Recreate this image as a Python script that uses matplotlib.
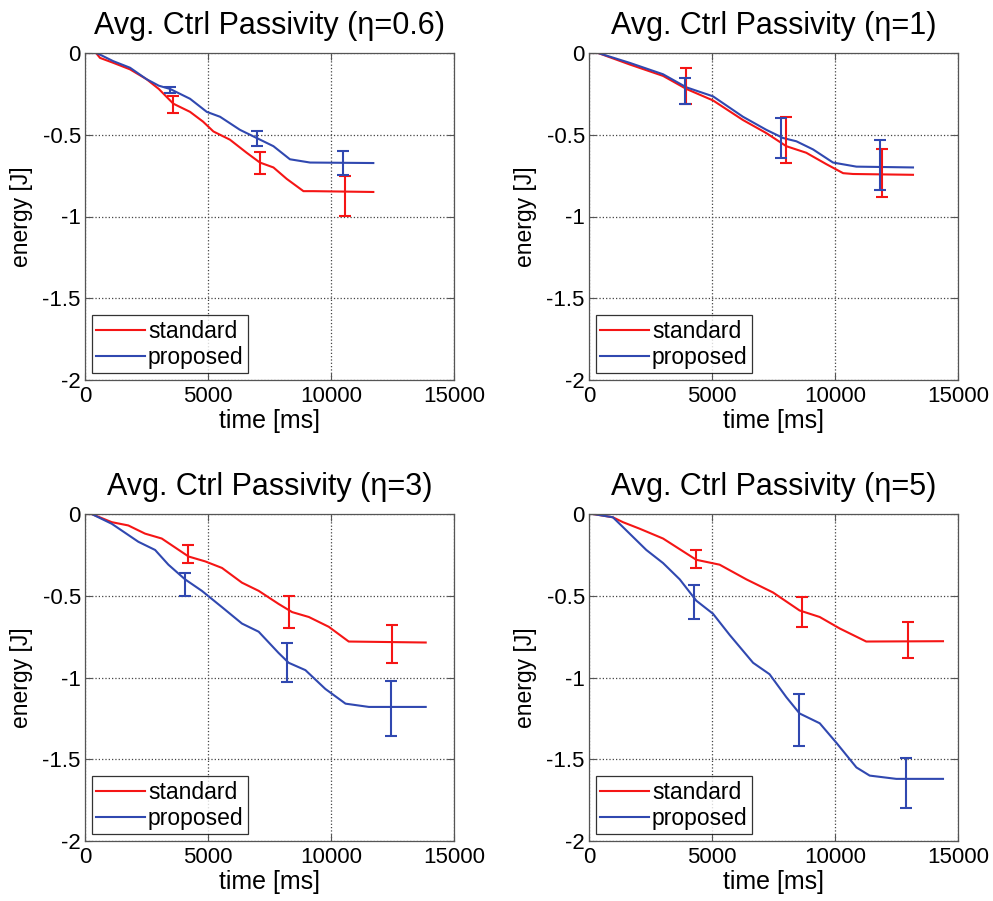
#!/usr/bin/env python3
"""
Average controller passivity energy: standard vs proposed, four eta values.
"""

import matplotlib
matplotlib.use('Agg')
import matplotlib.pyplot as plt

plt.rcParams['font.family'] = ['Liberation Sans', 'DejaVu Sans']
plt.rcParams['axes.unicode_minus'] = False

# ---- data ----
eta_labels = ['0.6', '1', '3', '5']

# eta = 0.6
std_t_06 = [0, 450, 610, 1150, 1830, 2500, 3000, 3590, 4270, 4800, 5220, 5890, 6570, 7110, 7660, 8200, 8880, 9280, 11720]
std_e_06 = [0, 0, -0.03, -0.06, -0.10, -0.16, -0.22, -0.31, -0.36, -0.42, -0.48, -0.53, -0.61, -0.67, -0.70, -0.77, -0.845, -0.845, -0.85]
prop_t_06 = [0, 450, 610, 1150, 1830, 2500, 3000, 3460, 4270, 4950, 5490, 6300, 6980, 7660, 8330, 9150, 11720]
prop_e_06 = [0, 0, -0.01, -0.05, -0.09, -0.16, -0.20, -0.22, -0.28, -0.36, -0.39, -0.47, -0.52, -0.57, -0.65, -0.67, -0.673]
std_bar_t_06 = [3590, 7110, 10570]
std_bar_e_06 = [-0.315, -0.675, -0.877]
std_bar_err_06 = [0.055, 0.067, 0.122]
prop_bar_t_06 = [3460, 6980, 10500]
prop_bar_e_06 = [-0.227, -0.522, -0.672]
prop_bar_err_06 = [0.018, 0.047, 0.072]

# eta = 1
std_t_1 = [0, 370, 1650, 3010, 3960, 5040, 6260, 7210, 8020, 8830, 9650, 10330, 10730, 13170]
std_e_1 = [0, 0, -0.07, -0.14, -0.22, -0.29, -0.41, -0.49, -0.57, -0.61, -0.68, -0.735, -0.74, -0.745]
prop_t_1 = [0, 370, 1650, 3010, 3960, 5040, 6260, 7210, 7890, 8430, 9110, 9920, 10870, 13170]
prop_e_1 = [0, 0, -0.06, -0.13, -0.21, -0.265, -0.39, -0.47, -0.52, -0.54, -0.59, -0.67, -0.695, -0.70]
std_bar_t_1 = [3960, 8020, 11910]
std_bar_e_1 = [-0.20, -0.53, -0.735]
std_bar_err_1 = [0.11, 0.14, 0.145]
prop_bar_t_1 = [3890, 7820, 11810]
prop_bar_e_1 = [-0.23, -0.52, -0.685]
prop_bar_err_1 = [0.08, 0.12, 0.155]

# eta = 3
std_t_3 = [0, 270, 1090, 1760, 2440, 3120, 4210, 4890, 5570, 6380, 7060, 7870, 8420, 9100, 9910, 10720, 13850]
std_e_3 = [0, 0, -0.05, -0.07, -0.12, -0.15, -0.26, -0.29, -0.33, -0.42, -0.47, -0.55, -0.60, -0.63, -0.69, -0.78, -0.786]
prop_t_3 = [0, 270, 1090, 2170, 2850, 3390, 4070, 4750, 5570, 6380, 7060, 7870, 8280, 8960, 9770, 10590, 11540, 13850]
prop_e_3 = [0, 0, -0.06, -0.17, -0.22, -0.31, -0.40, -0.47, -0.57, -0.67, -0.72, -0.85, -0.91, -0.955, -1.07, -1.16, -1.18, -1.18]
std_bar_t_3 = [4170, 8310, 12490]
std_bar_e_3 = [-0.245, -0.60, -0.795]
std_bar_err_3 = [0.055, 0.10, 0.115]
prop_bar_t_3 = [4050, 8210, 12420]
prop_bar_e_3 = [-0.43, -0.91, -1.19]
prop_bar_err_3 = [0.07, 0.12, 0.17]

# eta = 5
std_t_5 = [0, 160, 970, 1380, 2060, 3010, 4360, 5310, 6400, 7480, 8560, 9380, 10190, 11270, 14390]
std_e_5 = [0, 0, -0.02, -0.05, -0.09, -0.15, -0.28, -0.31, -0.40, -0.48, -0.59, -0.63, -0.70, -0.78, -0.778]
prop_t_5 = [0, 160, 970, 1380, 2330, 3010, 3690, 4360, 5040, 5720, 6670, 7340, 8020, 8560, 9380, 10060, 10870, 11410, 12490, 14390]
prop_e_5 = [0, 0, -0.02, -0.08, -0.22, -0.30, -0.40, -0.53, -0.61, -0.74, -0.91, -0.98, -1.12, -1.22, -1.28, -1.40, -1.55, -1.60, -1.62, -1.62]
std_bar_t_5 = [4340, 8660, 12970]
std_bar_e_5 = [-0.275, -0.60, -0.77]
std_bar_err_5 = [0.055, 0.09, 0.11]
prop_bar_t_5 = [4260, 8540, 12900]
prop_bar_e_5 = [-0.54, -1.26, -1.645]
prop_bar_err_5 = [0.105, 0.16, 0.155]

panels = [
    (std_t_06, std_e_06, prop_t_06, prop_e_06, std_bar_t_06, std_bar_e_06, std_bar_err_06,
     prop_bar_t_06, prop_bar_e_06, prop_bar_err_06),
    (std_t_1, std_e_1, prop_t_1, prop_e_1, std_bar_t_1, std_bar_e_1, std_bar_err_1,
     prop_bar_t_1, prop_bar_e_1, prop_bar_err_1),
    (std_t_3, std_e_3, prop_t_3, prop_e_3, std_bar_t_3, std_bar_e_3, std_bar_err_3,
     prop_bar_t_3, prop_bar_e_3, prop_bar_err_3),
    (std_t_5, std_e_5, prop_t_5, prop_e_5, std_bar_t_5, std_bar_e_5, std_bar_err_5,
     prop_bar_t_5, prop_bar_e_5, prop_bar_err_5),
]

x_ticks = [0, 5000, 10000, 15000]
y_ticks = [0, -0.5, -1, -1.5, -2]
y_ticklabels = ['0', '-0.5', '-1', '-1.5', '-2']

red = '#f51515'
blue = '#3048b0'

# ---- figure ----
W, H = 993, 901
fig = plt.figure(figsize=(W / 100, H / 100), dpi=100)

# axes boxes in pixels: (left, top, right, bottom)
boxes = [(85, 53, 454, 380), (589, 53, 958, 380),
         (85, 514, 454, 841), (589, 514, 958, 841)]

for (l, t, r, b), eta, p in zip(boxes, eta_labels, panels):
    ax = fig.add_axes([l / W, 1 - b / H, (r - l) / W, (b - t) / H])
    st, se, pt, pe, sbt, sbe, sbr, pbt, pbe, pbr = p

    ax.plot(st, se, color=red, lw=1.5, label='standard')
    ax.plot(pt, pe, color=blue, lw=1.5, label='proposed')
    ax.errorbar(sbt, sbe, yerr=sbr, fmt='none', ecolor=red, elinewidth=1.5,
                capsize=4, capthick=1.5)
    ax.errorbar(pbt, pbe, yerr=pbr, fmt='none', ecolor=blue, elinewidth=1.5,
                capsize=4, capthick=1.5)

    ax.set_xlim(0, 15000)
    ax.set_ylim(-2, 0)
    ax.set_xticks(x_ticks)
    ax.set_yticks(y_ticks)
    ax.set_yticklabels(y_ticklabels)
    ax.grid(True, linestyle=':', color='#444444', linewidth=0.9)
    ax.tick_params(direction='in', top=True, right=True, labelsize=16,
                   length=5, width=0.8, color='#555555')
    ax.tick_params(axis='x', pad=4)
    ax.tick_params(axis='y', pad=3)
    for s in ax.spines.values():
        s.set_color('#555555')
        s.set_linewidth(0.9)

    ax.set_xlabel('time [ms]', fontsize=18, labelpad=2)
    ax.set_ylabel('energy [J]', fontsize=16.5, labelpad=7)
    ax.set_title('Avg. Ctrl Passivity (\u03b7=%s)' % eta, fontsize=22, pad=14)

    leg = ax.legend(loc='lower left', fontsize=16.5, frameon=True, fancybox=False,
                    borderaxespad=0.3, handlelength=2.1, handletextpad=0.15,
                    borderpad=0.2, labelspacing=0.12)
    leg.get_frame().set_edgecolor('black')
    leg.get_frame().set_linewidth(0.9)

fig.savefig('out.png', dpi=100)
